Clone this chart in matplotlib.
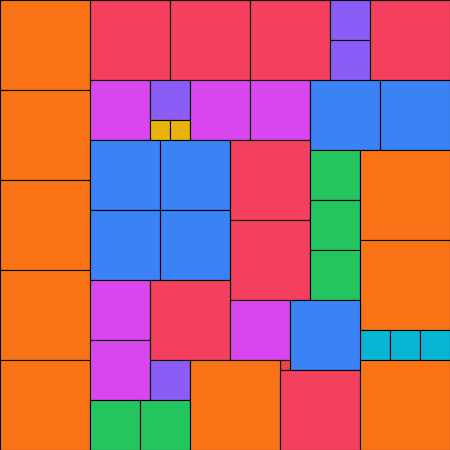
import matplotlib
matplotlib.use("Agg")
import matplotlib.pyplot as plt
from matplotlib.patches import Rectangle

# square packing: left/top corner and side length (grid units, 45 x 45)
xs = [0, 0, 0, 0, 0,
      9, 17, 25, 33, 33, 37,
      9, 15, 15, 17, 19, 25, 31, 38,
      9, 16, 9, 16, 23, 23,
      31, 31, 31, 36, 36, 36, 39, 42,
      9, 9, 15, 23, 29, 28, 15, 9, 14, 19, 28, 36]
ys = [0, 9, 18, 27, 36,
      0, 0, 0, 0, 4, 0,
      8, 8, 12, 12, 8, 8, 8, 8,
      14, 14, 21, 21, 14, 22,
      15, 20, 25, 15, 24, 33, 33, 33,
      28, 34, 28, 30, 30, 36, 36, 40, 40, 36, 37, 36]
sides = [9, 9, 9, 9, 9,
         8, 8, 8, 4, 4, 8,
         6, 4, 2, 2, 6, 6, 7, 7,
         7, 7, 7, 7, 8, 8,
         5, 5, 5, 9, 9, 3, 3, 3,
         6, 6, 8, 6, 7, 1, 4, 5, 5, 9, 8, 9]

side_colors = {9: "#F97316", 8: "#F43F5E", 7: "#3B82F6", 6: "#D946EF",
               5: "#22C55E", 4: "#8B5CF6", 3: "#06B6D4", 2: "#EAB308",
               1: "#EF4444"}

fig = plt.figure(figsize=(4.5, 4.5), dpi=100)
ax = fig.add_axes([0, 0, 1, 1])

for x, y, s in zip(xs, ys, sides):
    ax.add_patch(Rectangle((x, y), s, s, facecolor=side_colors[s],
                           edgecolor="black", linewidth=0.8))

ax.set_xlim(0, 45)
ax.set_ylim(45, 0)
ax.axis("off")

fig.savefig("out.png", dpi=100)
